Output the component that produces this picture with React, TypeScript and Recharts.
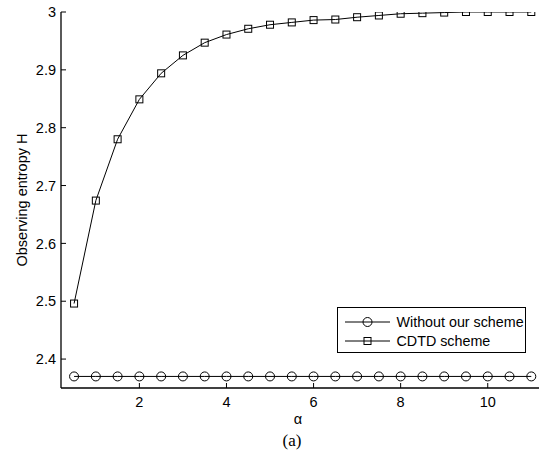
import React from 'react';
import { LineChart, Line, XAxis, YAxis } from 'recharts';

const alphaValues = [0.5, 1, 1.5, 2, 2.5, 3, 3.5, 4, 4.5, 5, 5.5, 6, 6.5, 7, 7.5, 8, 8.5, 9, 9.5, 10, 10.5, 11];
const withoutScheme = [2.37, 2.37, 2.37, 2.37, 2.37, 2.37, 2.37, 2.37, 2.37, 2.37, 2.37, 2.37, 2.37, 2.37, 2.37, 2.37, 2.37, 2.37, 2.37, 2.37, 2.37, 2.37];
const cdtdScheme = [2.496, 2.674, 2.78, 2.849, 2.894, 2.925, 2.947, 2.961, 2.971, 2.978, 2.982, 2.986, 2.987, 2.991, 2.994, 2.997, 2.998, 2.999, 3.0, 3.0, 3.0, 3.0];
const xTicks = [2, 4, 6, 8, 10];
const yTicks = [2.4, 2.5, 2.6, 2.7, 2.8, 2.9, 3.0];
const seriesNames = ['Without our scheme', 'CDTD scheme'];

const data = alphaValues.map((a, i) => ({ alpha: a, without: withoutScheme[i], cdtd: cdtdScheme[i] }));

const FONT = '"Liberation Sans", Arial, Helvetica, sans-serif';
const SERIF = '"Liberation Serif", "Times New Roman", serif';
const FS = 14.5;

const CircleDot = (props: any) => {
  const { cx, cy, index } = props;
  if (cx == null || cy == null) return <g key={`c${index}`} />;
  return <circle key={`c${index}`} cx={cx} cy={cy} r={4.5} fill="none" stroke="#000" strokeWidth={1} />;
};

const SquareDot = (props: any) => {
  const { cx, cy, index } = props;
  if (cx == null || cy == null) return <g key={`s${index}`} />;
  return <rect key={`s${index}`} x={cx - 3.5} y={cy - 3.5} width={7} height={7} fill="none" stroke="#000" strokeWidth={1} />;
};

const LegendBox = () => (
  <div style={{ position: 'absolute', left: 337, top: 307, width: 189, height: 46, border: '1px solid #000', background: '#fff', boxSizing: 'border-box' }}>
    <svg width={187} height={44} style={{ display: 'block', overflow: 'visible' }}>
      <line x1={7} x2={52} y1={14} y2={14} stroke="#000" strokeWidth={1} />
      <circle cx={29.5} cy={14} r={4.5} fill="none" stroke="#000" />
      <text x={58.5} y={14} dy="0.35em" fontFamily={FONT} fontSize={14.3} fill="#000">{seriesNames[0]}</text>
      <line x1={7} x2={52} y1={33} y2={33} stroke="#000" strokeWidth={1} />
      <rect x={26} y={29.5} width={7} height={7} fill="none" stroke="#000" />
      <text x={58.5} y={33} dy="0.35em" fontFamily={FONT} fontSize={14.3} fill="#000">{seriesNames[1]}</text>
    </svg>
  </div>
);

const emptyTick = () => <g />;

export default function App() {
  return (
    <div style={{ position: 'absolute', left: 0, top: 0, width: 539, height: 458, overflow: 'hidden', background: '#fff' }}>
      <LineChart width={541} height={458} data={data} margin={{ top: 12, right: 1, bottom: 10, left: 0 }}>
        <XAxis
          dataKey="alpha"
          type="number"
          domain={[0.2, 11.2]}
          ticks={xTicks}
          allowDataOverflow
          height={60}
          stroke="#000"
          axisLine={{ stroke: '#000', strokeWidth: 1.3 }}
          tickLine={{ stroke: '#000' }}
          tickSize={-5}
          tickMargin={14}
          tick={{ fill: '#000', fontSize: FS, fontFamily: FONT }}
          label={() => (
            <g>
              <text x={298} y={419} textAnchor="middle" dy="0.35em" fontFamily={FONT} fontSize={FS} fill="#000">α</text>
              <text x={292} y={440} textAnchor="middle" dy="0.35em" fontFamily={SERIF} fontSize={17} fill="#000">(a)</text>
            </g>
          )}
        />
        <XAxis
          xAxisId="top"
          orientation="top"
          dataKey="alpha"
          type="number"
          domain={[0.2, 11.2]}
          ticks={xTicks}
          allowDataOverflow
          height={0}
          axisLine={{ stroke: '#000', strokeWidth: 1.3 }}
          tickLine={{ stroke: '#000' }}
          tickSize={-5}
          tick={emptyTick}
        />
        <YAxis
          type="number"
          domain={[2.35, 3]}
          ticks={yTicks}
          allowDataOverflow
          width={61}
          axisLine={{ stroke: '#000', strokeWidth: 1.3 }}
          tickLine={{ stroke: '#000' }}
          tickSize={-5}
          tickMargin={10}
          tick={{ fill: '#000', fontSize: FS, fontFamily: FONT }}
          tickFormatter={(v: number) => String(+v.toFixed(1))}
          label={() => (
            <text x={22} y={200} textAnchor="middle" dy="0.35em" transform="rotate(-90 22 200)" fontFamily={FONT} fontSize={FS} fill="#000">
              Observing entropy H
            </text>
          )}
        />
        <YAxis
          yAxisId="right"
          orientation="right"
          type="number"
          domain={[2.35, 3]}
          ticks={yTicks}
          allowDataOverflow
          width={0}
          axisLine={{ stroke: '#000', strokeWidth: 1.3 }}
          tickLine={{ stroke: '#000' }}
          tickSize={-5}
          tick={emptyTick}
        />
        <Line
          dataKey="without"
          name={seriesNames[0]}
          stroke="#000"
          strokeWidth={1}
          dot={CircleDot}
          isAnimationActive={false}
        />
        <Line
          dataKey="cdtd"
          name={seriesNames[1]}
          stroke="#000"
          strokeWidth={1}
          dot={SquareDot}
          isAnimationActive={false}
        />
      </LineChart>
      <LegendBox />
    </div>
  );
}
